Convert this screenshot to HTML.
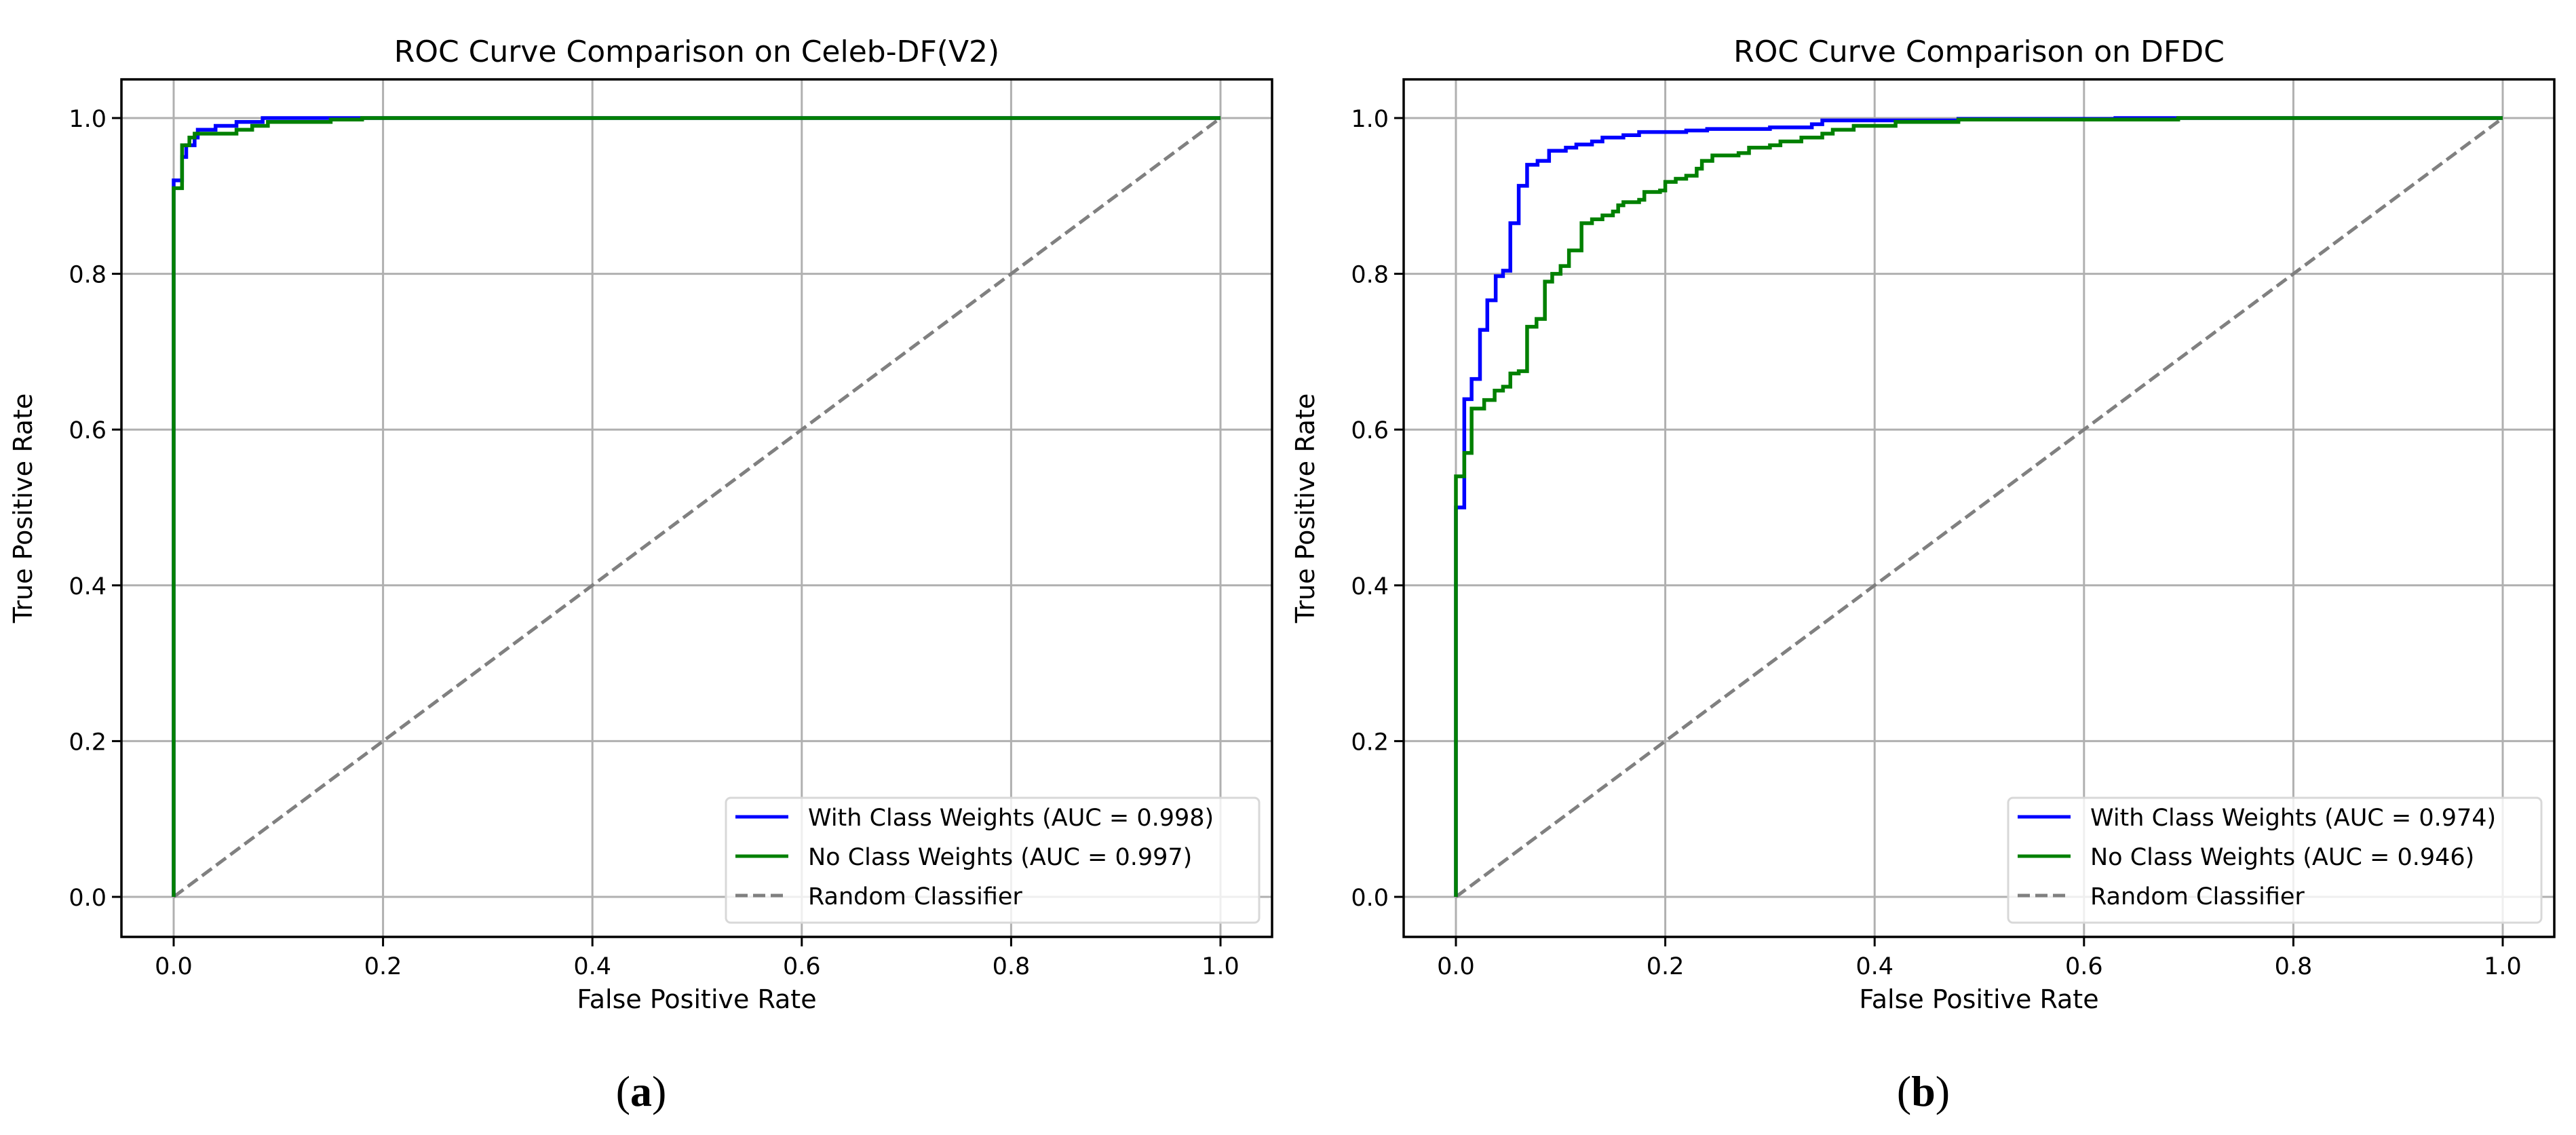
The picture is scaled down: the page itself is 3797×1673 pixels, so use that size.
<!DOCTYPE html>
<html><head><meta charset="utf-8"><style>
html,body{margin:0;padding:0;background:#fff;}
svg{display:block;font-family:"DejaVu Sans","Liberation Sans",sans-serif;}
</style></head><body>
<svg id="fig" width="3797" height="1673" viewBox="0 0 3797 1673"></svg>
<script>
const ticks=[0,0.2,0.4,0.6,0.8,1.0];
const tickLabels=["0.0","0.2","0.4","0.6","0.8","1.0"];
const aFprW=[0,0,0.008,0.012,0.02,0.023,0.04,0.06,0.085,1];
const aTprW=[0,0.92,0.95,0.965,0.975,0.985,0.99,0.995,1,1];
const aFprN=[0,0,0.008,0.015,0.02,0.06,0.075,0.09,0.15,0.18,1];
const aTprN=[0,0.91,0.965,0.975,0.98,0.985,0.99,0.995,0.998,1,1];
const bFprW=[0,0,0.008,0.015,0.023,0.030,0.038,0.045,0.052,0.06,0.068,0.078,0.089,0.105,0.115,0.13,0.14,0.16,0.175,0.22,0.24,0.3,0.34,0.35,0.48,0.63,1];
const bTprW=[0,0.5,0.639,0.665,0.728,0.766,0.797,0.804,0.865,0.913,0.94,0.945,0.958,0.962,0.966,0.97,0.975,0.978,0.982,0.984,0.986,0.988,0.992,0.997,0.999,1,1];
const bFprN=[0,0,0.008,0.015,0.027,0.037,0.045,0.052,0.06,0.068,0.077,0.085,0.092,0.1,0.108,0.12,0.13,0.14,0.15,0.155,0.16,0.175,0.18,0.195,0.2,0.21,0.22,0.23,0.235,0.245,0.27,0.28,0.3,0.31,0.33,0.35,0.36,0.38,0.42,0.48,0.69,1];
const bTprN=[0,0.54,0.57,0.627,0.638,0.65,0.655,0.672,0.675,0.732,0.742,0.79,0.8,0.81,0.83,0.865,0.87,0.875,0.88,0.888,0.892,0.895,0.905,0.907,0.918,0.922,0.926,0.935,0.945,0.952,0.955,0.962,0.965,0.97,0.975,0.98,0.985,0.99,0.995,0.998,1,1];
const NS="http://www.w3.org/2000/svg";
const svg=document.getElementById('fig');
function mk(tag,attrs,parent,text){const e=document.createElementNS(NS,tag);for(const k in attrs)e.setAttribute(k,attrs[k]);if(text!==undefined)e.textContent=text;(parent||svg).appendChild(e);return e;}
function panel(cfg){
  const g=mk('g',{});
  
  
  const X=v=>cfg.x0+v*(cfg.x1-cfg.x0), Y=v=>cfg.y0+v*(cfg.y1-cfg.y0);
  ticks.forEach((t,i)=>{
    const gx=mk('line',{x1:X(t),x2:X(t),y1:cfg.top,y2:cfg.bot,stroke:'#b0b0b0','stroke-width':3},g);
    
    
    const gy=mk('line',{x1:cfg.left,x2:cfg.right,y1:Y(t),y2:Y(t),stroke:'#b0b0b0','stroke-width':3},g);
    
    
    mk('line',{x1:X(t),x2:X(t),y1:cfg.bot,y2:cfg.bot+14,stroke:'#000','stroke-width':3},g);
    mk('line',{x1:cfg.left-14,x2:cfg.left,y1:Y(t),y2:Y(t),stroke:'#000','stroke-width':3},g);
    const xl=mk('text',{x:X(t),y:cfg.bot+55,'font-size':35,'text-anchor':'middle'},g,tickLabels[i]);
    
    
    const yl=mk('text',{x:cfg.left-22,y:Y(t)+13,'font-size':35,'text-anchor':'end'},g,tickLabels[i]);
    
    
  });
  const d=mk('line',{x1:X(0),y1:Y(0),x2:X(1),y2:Y(1),stroke:'#808080','stroke-width':5,'stroke-dasharray':'18,8'},g);
  
  
  function step(fx,ty,color,name){
    let p='M'+X(fx[0])+','+Y(ty[0]);
    for(let i=1;i<fx.length;i++){p+=' L'+X(fx[i])+','+Y(ty[i-1])+' L'+X(fx[i])+','+Y(ty[i]);}
    const e=mk('path',{d:p,fill:'none',stroke:color,'stroke-width':5.5},g);
    
    
  }
  step(cfg.fw,cfg.tw,'#0000ff','with-class-weights-curve');
  step(cfg.fn,cfg.tn,'#008000','no-class-weights-curve');
  mk('rect',{x:cfg.left,y:cfg.top,width:cfg.right-cfg.left,height:cfg.bot-cfg.top,fill:'none',stroke:'#000','stroke-width':3.5},g);
  const t=mk('text',{x:(cfg.left+cfg.right)/2,y:91,'font-size':44,'text-anchor':'middle'},g,cfg.title);
  
  
  const xt=mk('text',{x:(cfg.left+cfg.right)/2,y:1486,'font-size':38,'text-anchor':'middle'},g,'False Positive Rate');
  
  
  const yx=cfg.left-132, yy=(cfg.top+cfg.bot)/2;
  const yt=mk('text',{x:yx,y:yy,'font-size':38,'text-anchor':'middle',transform:'rotate(-90 '+yx+' '+yy+')'},g,'True Positive Rate');
  
  
  const lg=mk('g',{},g);
  
  
  mk('rect',{x:cfg.lx,y:cfg.ly,width:cfg.lw,height:184,rx:7,fill:'#fff','fill-opacity':0.8,stroke:'#d8d8d8','stroke-width':3},lg);
  const items=[['#0000ff',null,cfg.l1],['#008000',null,cfg.l2],['#808080','18,8','Random Classifier']];
  items.forEach((it,i)=>{
    const yy2=cfg.ly+28+i*58;
    const a={x1:cfg.lx+14,x2:cfg.lx+92,y1:yy2,y2:yy2,stroke:it[0],'stroke-width':5};
    if(it[1])a['stroke-dasharray']=it[1];
    mk('line',a,lg);
    const tx=mk('text',{x:cfg.lx+121,y:yy2+13,'font-size':35},lg,it[2]);
    
    
  });
  const cap=mk('text',{x:cfg.capx,y:1630,'font-size':64,'text-anchor':'middle','font-family':'Liberation Serif, serif'},g);
  
  
  cap.innerHTML='(<tspan font-weight="bold">'+cfg.cap+'</tspan>)';
}
panel({name:'celeb-df-panel',left:179,right:1875,top:117,bot:1381,x0:256,x1:1799,y0:1322,y1:174,
  fw:aFprW,tw:aTprW,fn:aFprN,tn:aTprN,title:'ROC Curve Comparison on Celeb-DF(V2)',
  l1:'With Class Weights (AUC = 0.998)',l2:'No Class Weights (AUC = 0.997)',lx:1070,ly:1176,lw:786,cap:'a',capx:945});
panel({name:'dfdc-panel',left:2069,right:3765,top:117,bot:1381,x0:2146,x1:3689,y0:1322,y1:174,
  fw:bFprW,tw:bTprW,fn:bFprN,tn:bTprN,title:'ROC Curve Comparison on DFDC',
  l1:'With Class Weights (AUC = 0.974)',l2:'No Class Weights (AUC = 0.946)',lx:2960,ly:1176,lw:786,cap:'b',capx:2835});
</script>
</body></html>
